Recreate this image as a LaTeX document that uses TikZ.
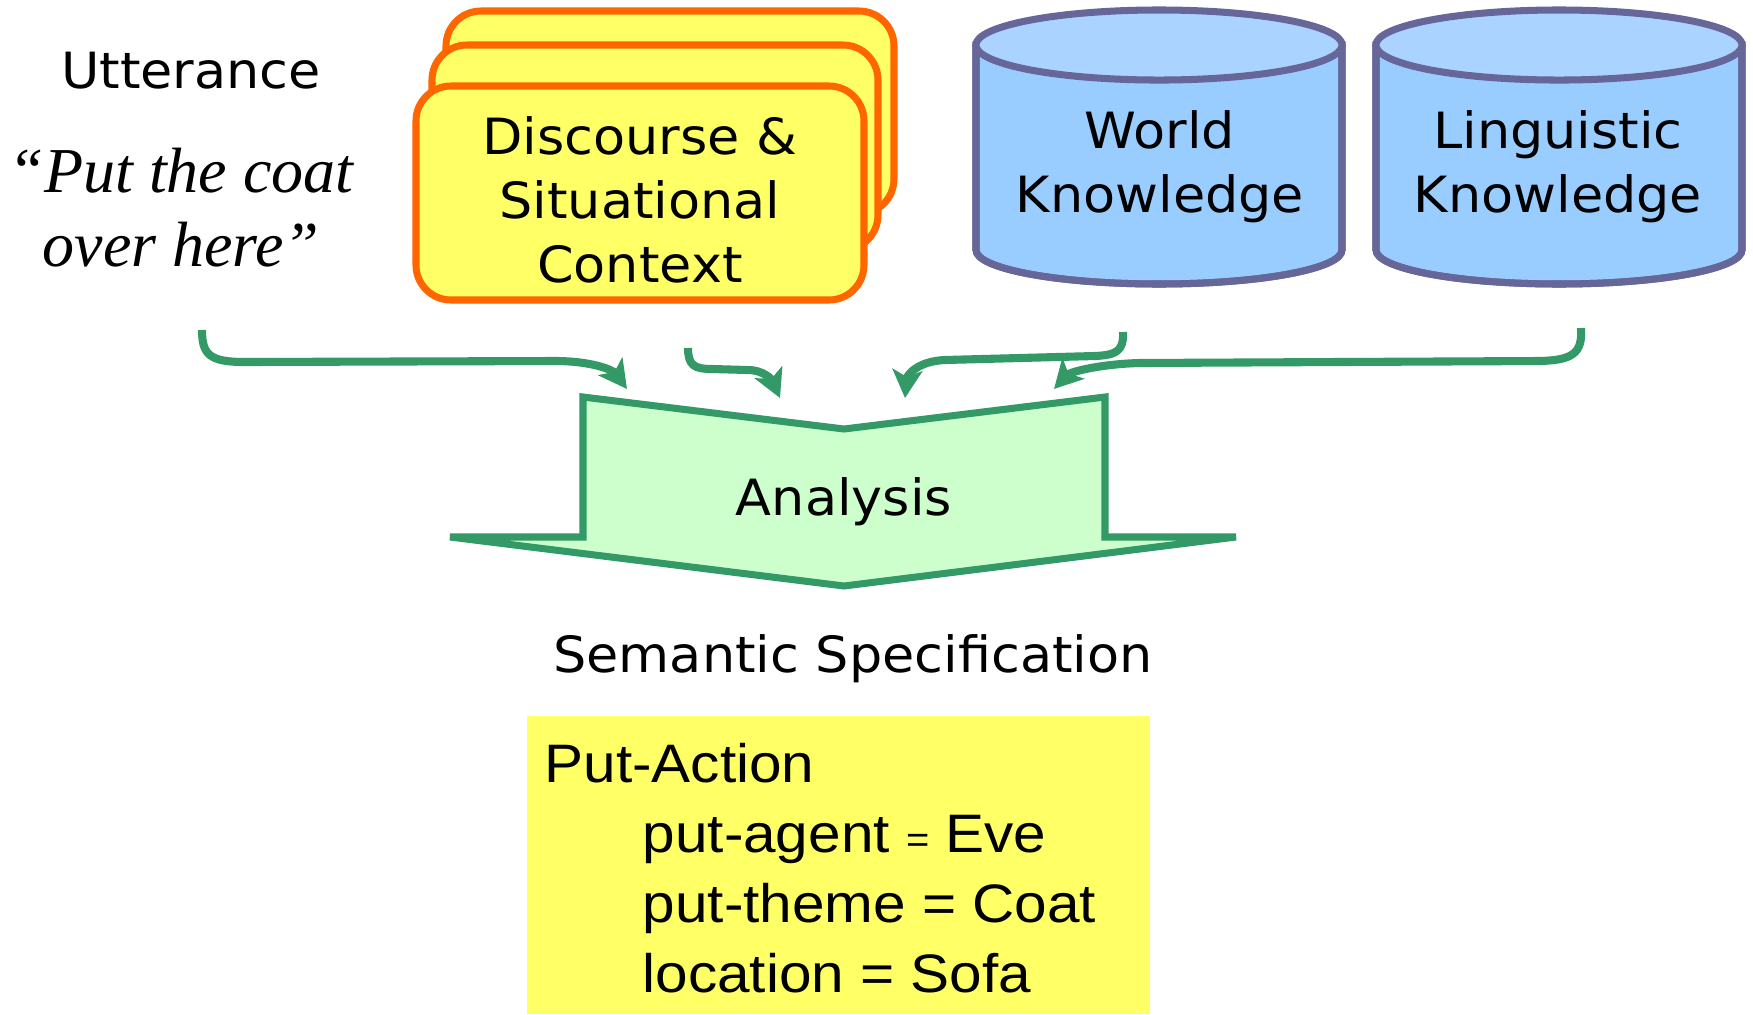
\documentclass[tikz,border=0pt]{standalone}
\usepackage{fontspec}
\newfontfamily\dv[FakeStretch=1.05]{DejaVu Sans}
\newfontfamily\ar[FakeStretch=1.08]{Liberation Sans}
\newfontfamily\tms{Liberation Serif}
\usetikzlibrary{arrows.meta}
\definecolor{orng}{HTML}{FF6600}
\definecolor{ylw}{HTML}{FFFF66}
\definecolor{cylline}{HTML}{666699}
\definecolor{cylbody}{HTML}{99CCFF}
\definecolor{cyltop}{HTML}{AAD4FF}
\definecolor{grn}{HTML}{339966}
\definecolor{lgrn}{HTML}{CCFFCC}
\begin{document}
\begin{tikzpicture}[x=0.01cm,y=-0.01cm,
  lbl/.style={inner sep=0pt, align=center, font=\dv\fontsize{14.2pt}{18.2pt}\selectfont},
  quote/.style={inner sep=0pt, align=center, font=\tms\itshape\fontsize{18.2pt}{21pt}\selectfont},
  spec/.style={inner sep=0pt, anchor=base west, font=\ar\fontsize{15.4pt}{18pt}\selectfont},
  card/.style={draw=orng, fill=ylw, line width=2pt, rounded corners=0.35cm},
  cyl/.style={draw=cylline, fill=cylbody, line width=2pt},
  cyltopst/.style={draw=cylline, fill=cyltop, line width=2pt},
  flow/.style={draw=grn, line width=2.3pt, -{Stealth[length=8pt,width=8.5pt,inset=2pt]}},
  bigarrow/.style={draw=grn, fill=lgrn, line width=2pt, line join=miter}
]
\useasboundingbox (0,0) rectangle (1753,1014);

% stacked context cards
\draw[card] (446,11) rectangle (894,214);
\draw[card] (432,45) rectangle (878,250);
\draw[card] (416,86) rectangle (864,300);
\node[lbl] (ctx) at (640,200) {Discourse \&\\Situational\\Context};

% world knowledge cylinder
\path[cyl] (976,45) -- (976,250) .. controls (976,268.8) and (1057.9,284) .. (1159,284)
  .. controls (1260.1,284) and (1342,268.8) .. (1342,250) -- (1342,45) -- cycle;
\draw[draw=cylline, line width=2pt] (976,45) -- (976,250) .. controls (976,268.8) and (1057.9,284) .. (1159,284)
  .. controls (1260.1,284) and (1342,268.8) .. (1342,250) -- (1342,45);
\draw[cyltopst] (1159,45) ellipse [x radius=1.83cm, y radius=0.35cm];
\node[lbl] (wk) at (1160,167) {World\\Knowledge};

% linguistic knowledge cylinder
\path[cyl] (1376,45) -- (1376,250) .. controls (1376,268.8) and (1457.9,284) .. (1559,284)
  .. controls (1660.1,284) and (1742,268.8) .. (1742,250) -- (1742,45) -- cycle;
\draw[draw=cylline, line width=2pt] (1376,45) -- (1376,250) .. controls (1376,268.8) and (1457.9,284) .. (1559,284)
  .. controls (1660.1,284) and (1742,268.8) .. (1742,250) -- (1742,45);
\draw[cyltopst] (1559,45) ellipse [x radius=1.83cm, y radius=0.35cm];
\node[lbl] (lk) at (1558,167) {Linguistic\\Knowledge};

% utterance
\node[lbl] (utt) at (191,71) {Utterance};
\node[quote] (q) at (181,208) {“Put the coat\\over here”};

% analysis block arrow
\draw[bigarrow] (583,397) -- (844,429) -- (1105,397) -- (1105,537) -- (1236,537)
  -- (844,586) -- (450,537) -- (583,537) -- cycle;
\node[lbl] (ana) at (844,502) {Analysis};

% curved input arrows
\coordinate (a1s) at (202,330); \coordinate (a1e) at (627,389);
\coordinate (a2s) at (688,348); \coordinate (a2e) at (780,398);
\coordinate (a3s) at (1123,332); \coordinate (a3e) at (905,398);
\coordinate (a4s) at (1581,328); \coordinate (a4e) at (1054,389);
\draw[flow] (a1s) .. controls (202,355) and (210,362) .. (245,362) -- (555,361)
  .. controls (592,361) and (613,370) .. (a1e);
\draw[flow] (a2s) .. controls (688,366) and (695,369) .. (712,369) -- (748,370)
  .. controls (764,370) and (772,380) .. (a2e);
\draw[flow] (a3s) .. controls (1124,352) and (1115,355) .. (1095,356) -- (945,360)
  .. controls (918,361) and (907,375) .. (a3e);
\draw[flow] (a4s) .. controls (1583,355) and (1570,360) .. (1540,361) -- (1140,363)
  .. controls (1100,364) and (1070,372) .. (a4e);

% semantic specification
\node[lbl] (sem) at (853,659) {Semantic Specification};
\fill[ylw] (527,716) rectangle (1150,1014);
\node[spec] (pa) at (544,782) {Put-Action};
\node[spec] (ag) at (642,852) {put-agent {\fontsize{10.5pt}{10pt}\selectfont =} Eve};
\node[spec] (th) at (642,922) {put-theme = Coat};
\node[spec] (lo) at (642,992) {location = Sofa};
\end{tikzpicture}
\end{document}
